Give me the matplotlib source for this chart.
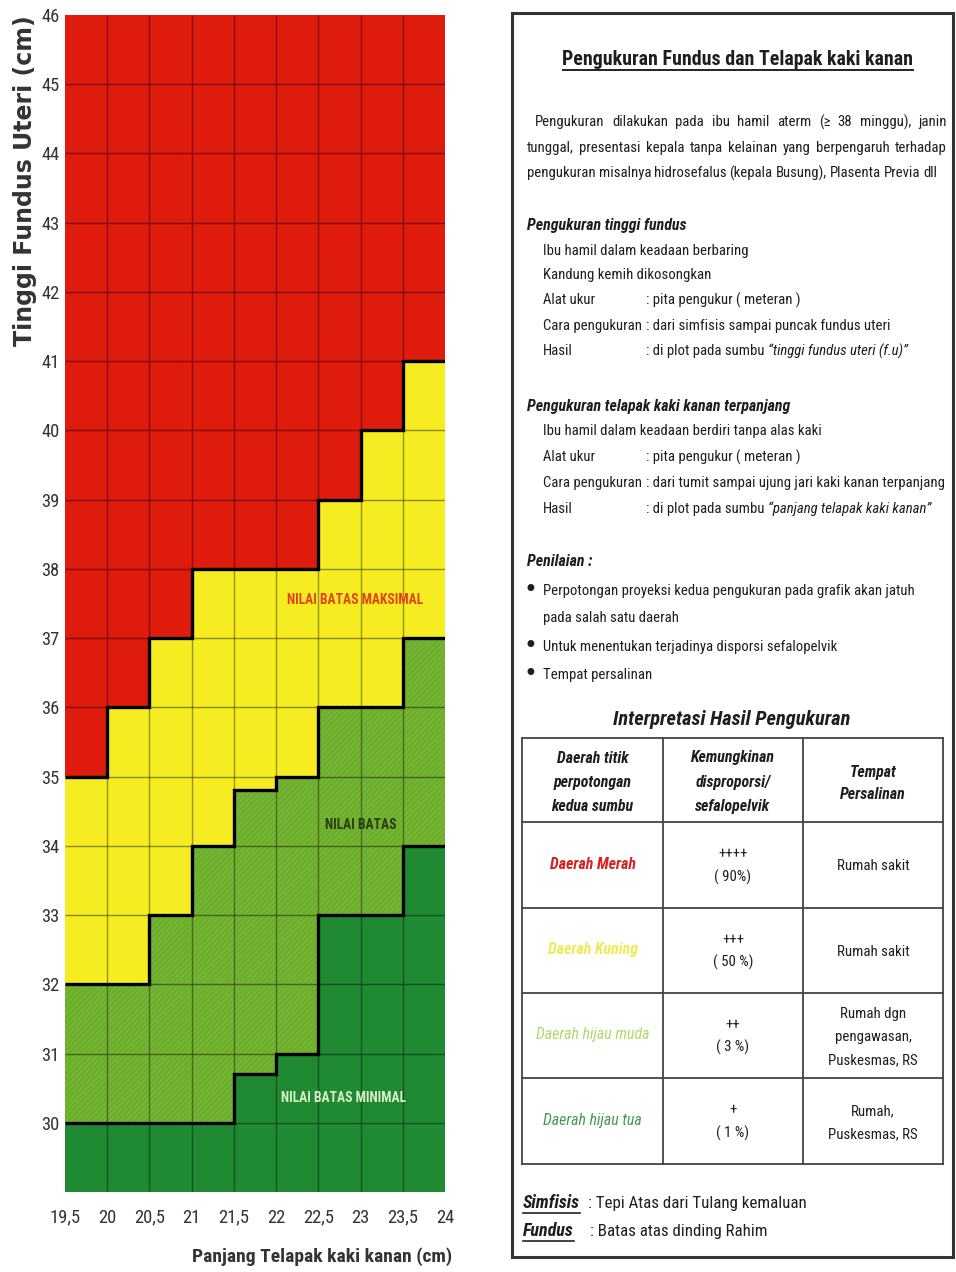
import matplotlib
matplotlib.use("Agg")
import matplotlib.pyplot as plt
import numpy as np
from matplotlib.lines import Line2D
from matplotlib.patches import Rectangle
from matplotlib import font_manager as fm

# ---------------- data ----------------
foot_edges = [19.5, 20, 20.5, 21, 21.5, 22, 22.5, 23, 23.5, 24]
foot_labels = ["19,5", "20", "20,5", "21", "21,5", "22", "22,5", "23", "23,5", "24"]
fundus_ticks = list(range(30, 47))
fundus_min, fundus_max = 29, 46
red_lower = [35, 36, 37, 38, 38, 38, 39, 40, 41]
yellow_lower = [32, 32, 33, 34, 34.8, 35, 36, 36, 37]
lightgreen_lower = [30, 30, 30, 30, 30.7, 31, 33, 33, 34]

zone_labels = ["NILAI BATAS MAKSIMAL", "NILAI BATAS", "NILAI BATAS MINIMAL"]

table_header = [["Daerah titik", "perpotongan", "kedua sumbu"],
                ["Kemungkinan", "disproporsi/", "sefalopelvik"],
                ["Tempat", "Persalinan"]]
region_names = ["Daerah Merah", "Daerah Kuning", "Daerah hijau muda", "Daerah hijau tua"]
risk_marks = ["++++", "+++", "++", "+"]
risk_pct = ["( 90%)", "( 50 %)", "( 3 %)", "( 1 %)"]
delivery_place = [["Rumah sakit"], ["Rumah sakit"],
                  ["Rumah dgn", "pengawasan,", "Puskesmas, RS"],
                  ["Rumah,", "Puskesmas, RS"]]

# ---------------- fonts ----------------
W, H = 956, 1272


def _w(f):
    return f.weight if isinstance(f.weight, int) else fm.weight_dict.get(f.weight, 400)


def has_face(name, bold, italic):
    for f in fm.fontManager.ttflist:
        if f.name != name:
            continue
        w = _w(f)
        if bold != (w >= 600):
            continue
        if italic != (f.style != "normal"):
            continue
        return True
    return False


CANDS = ["Roboto Condensed", "Archivo Narrow", "PT Sans Narrow", "Fira Sans Condensed",
         "IBM Plex Sans Condensed", "Asap Condensed", "Encode Sans Condensed",
         "Sofia Sans Condensed", "Barlow Semi Condensed", "Barlow Condensed",
         "Liberation Sans"]


def pick(bold, italic):
    for n in CANDS:
        if has_face(n, bold, italic):
            return [n, "Liberation Sans", "DejaVu Sans"]
    return ["Liberation Sans", "DejaVu Sans"]


full = [n for n in CANDS if all(has_face(n, b, i) for b in (0, 1) for i in (0, 1))]
if full:
    F_REG = F_IT = F_B = F_BI = [full[0], "Liberation Sans", "DejaVu Sans"]
else:
    F_REG, F_IT, F_B, F_BI = pick(0, 0), pick(0, 1), pick(1, 0), pick(1, 1)


def fam(weight, style):
    b = weight == "bold"
    i = style == "italic"
    return {(0, 0): F_REG, (0, 1): F_IT, (1, 0): F_B, (1, 1): F_BI}[(b, i)]


RED = "#DE1B0C"
YELLOW = "#F6EC22"
LGREEN = "#72B431"
DGREEN = "#1F8A32"
TXT = "#1E1E1E"

fig = plt.figure(figsize=(W / 100, H / 100), dpi=100)
fig.patch.set_facecolor("white")
renderer = fig.canvas.get_renderer()


def fitsize(s, target, weight="normal", style="normal", family=None):
    t = fig.text(0, 0, s, fontsize=10, fontweight=weight, fontstyle=style,
                 family=family or fam(weight, style))
    w = t.get_window_extent(renderer).width
    t.remove()
    return 10 * target / w


# ---------------- chart ----------------
ax = fig.add_axes([65 / W, 1 - 1192 / H, 380 / W, 1177 / H])
edges = np.array(foot_edges)
top = np.full(len(red_lower), fundus_max)
ax.stairs(top, edges, baseline=red_lower, fill=True, color=RED, lw=0)
ax.stairs(red_lower, edges, baseline=yellow_lower, fill=True, color=YELLOW, lw=0)
ax.stairs(yellow_lower, edges, baseline=lightgreen_lower, fill=True, color=LGREEN, lw=0)
plt.rcParams["hatch.linewidth"] = 0.6
ax.stairs(yellow_lower, edges, baseline=lightgreen_lower, fill=True, facecolor="none",
          edgecolor=(0.35, 0.55, 0.1, 0.35), hatch="//////", lw=0)
ax.stairs(lightgreen_lower, edges, baseline=fundus_min, fill=True, color=DGREEN, lw=0)

ax.vlines(edges[1:-1], fundus_min, fundus_max, color=(0, 0, 0, 0.38), lw=1.0, zorder=3)
ax.hlines(fundus_ticks[:-1], edges[0], edges[-1], color=(0, 0, 0, 0.42), lw=1.0, zorder=3)

for b in (red_lower, yellow_lower, lightgreen_lower):
    ax.stairs(b, edges, baseline=None, color="black", lw=2.4, zorder=4)

ax.set_xlim(edges[0], edges[-1])
ax.set_ylim(fundus_min, fundus_max)
ax.set_xticks(foot_edges, foot_labels)
ax.set_yticks(fundus_ticks)
ax.tick_params(length=0)
ax.tick_params(axis="x", pad=12)
ax.tick_params(axis="y", pad=4)
tick_size = min(15, fitsize("19,5", 31))
for lab in ax.get_xticklabels() + ax.get_yticklabels():
    lab.set_family(F_REG)
    lab.set_fontsize(tick_size)
    lab.set_color("#333333")
for s in ax.spines.values():
    s.set_visible(False)

zsize = fitsize(zone_labels[0], 136, weight="bold")
ax.text(22.94, 37.55, zone_labels[0], family=F_B, fontsize=zsize, fontweight="bold",
        color="#E2431A", ha="center", va="center", zorder=5)
ax.text(23.0, 34.3, zone_labels[1], family=F_B, fontsize=zsize, fontweight="bold",
        color="#2A3A12", ha="center", va="center", zorder=5)
ax.text(22.8, 30.36, zone_labels[2], family=F_B, fontsize=zsize, fontweight="bold",
        color="#D8EFC8", ha="center", va="center", zorder=5)

fig.text(25 / W, 1 - 181 / H, "Tinggi Fundus Uteri (cm)", rotation=90, ha="center",
         va="center", fontsize=17, fontweight="bold", color="#333333",
         family=["DejaVu Sans"])
xl = "Panjang Telapak kaki kanan (cm)"
fig.text(322 / W, 1 - 1257 / H, xl, ha="center", va="center", family=F_B,
         fontsize=fitsize(xl, 259, weight="bold"), fontweight="bold", color="#333333")

# ---------------- right panel ----------------
BODY = fitsize("Ibu hamil dalam keadaan berbaring", 204)


def T(x, y, s, size=None, weight="normal", style="normal", color=TXT, ha="left"):
    size = size or BODY
    yb = y + 0.36 * size * 100 / 72
    return fig.text(x / W, 1 - yb / H, s, fontsize=size, fontweight=weight,
                    fontstyle=style, color=color, ha=ha, va="baseline",
                    family=fam(weight, style))


def width(t):
    return t.get_window_extent(renderer).width


def justify(x0, x1, y, line, **kw):
    words = line.split()
    ts = [T(x0, y, w, **kw) for w in words]
    ws = [width(t) for t in ts]
    gap = (x1 - x0 - sum(ws)) / (len(words) - 1)
    x = x0
    for t, w in zip(ts, ws):
        yb = t.get_position()[1]
        t.set_position((x / W, yb))
        x += w + gap


def hline(x0, x1, y, lw=1.2, color="#444444"):
    fig.add_artist(Line2D([x0 / W, x1 / W], [1 - y / H, 1 - y / H], lw=lw, color=color,
                          transform=fig.transFigure))


def vline(x, y0, y1, lw=1.2, color="#444444"):
    fig.add_artist(Line2D([x / W, x / W], [1 - y0 / H, 1 - y1 / H], lw=lw, color=color,
                          transform=fig.transFigure))


fig.add_artist(Rectangle((512 / W, 1 - 1257 / H), 441 / W, 1244 / H, fill=False,
                         lw=2.2, ec="#333333", transform=fig.transFigure))

title = "Pengukuran Fundus dan Telapak kaki kanan"
T(738, 58, title, size=fitsize(title, 350, weight="bold"), weight="bold", ha="center")
hline(563, 913, 70, lw=1.4, color="#222222")

justify(535, 947, 121, "Pengukuran dilakukan pada ibu hamil aterm (\u2265 38 minggu), janin")
justify(527, 947, 147, "tunggal, presentasi kepala tanpa kelainan yang berpengaruh terhadap")
justify(527, 937, 172, "pengukuran misalnya hidrosefalus (kepala Busung), Plasenta Previa dll")

HEAD = fitsize("Pengukuran telapak kaki kanan terpanjang", 263, weight="bold", style="italic")
COLX = 646
T(527, 224, "Pengukuran tinggi fundus", size=HEAD, weight="bold", style="italic")
T(543, 250, "Ibu hamil dalam keadaan berbaring")
T(543, 274, "Kandung kemih dikosongkan")
T(543, 299, "Alat ukur")
T(COLX, 299, ": pita pengukur ( meteran )")
T(543, 325, "Cara pengukuran")
T(COLX, 325, ": dari simfisis sampai puncak fundus uteri")
T(543, 350, "Hasil")
t = T(COLX, 350, ": di plot pada sumbu")
T(COLX + width(t) + 3, 350, "\u201ctinggi fundus uteri (f.u)\u201d", style="italic")

T(527, 405, "Pengukuran telapak kaki kanan terpanjang", size=HEAD, weight="bold", style="italic")
T(543, 430, "Ibu hamil dalam keadaan berdiri tanpa alas kaki")
T(543, 456, "Alat ukur")
T(COLX, 456, ": pita pengukur ( meteran )")
T(543, 482, "Cara pengukuran")
T(COLX, 482, ": dari tumit sampai ujung jari kaki kanan terpanjang")
T(543, 508, "Hasil")
t = T(COLX, 508, ": di plot pada sumbu")
T(COLX + width(t) + 3, 508, "\u201cpanjang telapak kaki kanan\u201d", style="italic")

T(527, 560, "Penilaian :", size=HEAD, weight="bold", style="italic")
bullets = [(590, "Perpotongan proyeksi kedua pengukuran pada grafik akan jatuh", True),
           (617, "pada salah satu daerah", False),
           (646, "Untuk menentukan terjadinya disporsi sefalopelvik", True),
           (674, "Tempat persalinan", True)]
for y, s, b in bullets:
    if b:
        fig.text(530 / W, 1 - y / H, "\u2022", fontsize=BODY * 1.6, color=TXT,
                 ha="center", va="center", family=["DejaVu Sans"])
    T(543, y, s)

it = "Interpretasi Hasil Pengukuran"
T(732, 718, it, size=fitsize(it, 237, weight="bold", style="italic"), weight="bold",
  style="italic", ha="center")

# table
tx = [522, 663, 803, 943]
ty = [738, 822, 908, 993, 1078, 1164]
for y in ty:
    hline(tx[0], tx[-1], y, lw=1.3)
for x in tx:
    vline(x, ty[0], ty[-1], lw=1.3)

HDR = fitsize("Kemungkinan", 84, weight="bold", style="italic")
hdr_y = [[757, 781, 805], [756, 781, 805], [771, 793]]
for c, lines in enumerate(table_header):
    cx = (tx[c] + tx[c + 1]) / 2
    for s, y in zip(lines, hdr_y[c]):
        T(cx, y, s, size=HDR, weight="bold", style="italic", ha="center")

CELL = fitsize("Rumah sakit", 72)
REG = fitsize("Daerah Merah", 86, weight="bold", style="italic")
region_colors = ["#D82020", "#EDEB55", "#B0D86A", "#48984E"]
region_weight = ["bold", "bold", "normal", "normal"]
for r in range(4):
    y0, y1 = ty[r + 1], ty[r + 2]
    cy = (y0 + y1) / 2
    T((tx[0] + tx[1]) / 2, cy - 2, region_names[r], size=REG, weight=region_weight[r],
      style="italic", color=region_colors[r], ha="center")
    T((tx[1] + tx[2]) / 2, cy - 12, risk_marks[r], size=CELL, ha="center")
    T((tx[1] + tx[2]) / 2, cy + 11, risk_pct[r], size=CELL, ha="center")
    lines = delivery_place[r]
    n = len(lines)
    for i, s in enumerate(lines):
        T((tx[2] + tx[3]) / 2, cy + (i - (n - 1) / 2) * 23, s, size=CELL, ha="center")

# footer
FOOT = fitsize(": Tepi Atas dari Tulang kemaluan", 217)
FOOTB = fitsize("Simfisis", 57, weight="bold", style="italic")
t = T(523, 1202, "Simfisis", size=FOOTB, weight="bold", style="italic")
hline(523, 523 + width(t), 1213, lw=1.2, color="#222222")
T(588, 1202, ": Tepi Atas dari Tulang kemaluan", size=FOOT)
t = T(523, 1230, "Fundus", size=FOOTB, weight="bold", style="italic")
hline(523, 523 + width(t), 1241, lw=1.2, color="#222222")
T(590, 1230, ": Batas atas dinding Rahim", size=FOOT)

fig.savefig("out.png", dpi=100, facecolor="white")
